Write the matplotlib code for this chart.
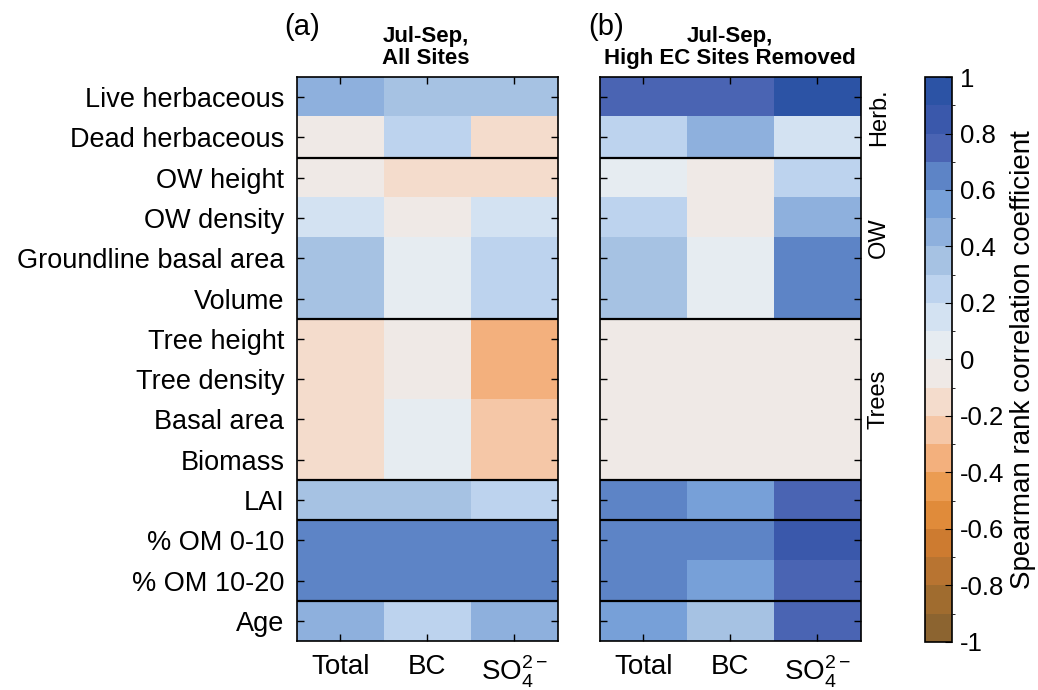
import numpy as np
import matplotlib
matplotlib.use("Agg")
import matplotlib.pyplot as plt
from matplotlib.colors import ListedColormap, BoundaryNorm

plt.rcParams['font.family'] = ['Liberation Sans', 'DejaVu Sans']
plt.rcParams['mathtext.fontset'] = 'custom'
plt.rcParams['mathtext.rm'] = 'Liberation Sans'

row_labels = ["Live herbaceous", "Dead herbaceous", "OW height", "OW density",
              "Groundline basal area", "Volume", "Tree height", "Tree density",
              "Basal area", "Biomass", "LAI", "% OM 0-10", "% OM 10-20", "Age"]
col_labels = ["Total", "BC", r"SO$_4^{2-}$"]

# Spearman coefficients (Total, BC, SO4)
all_sites = [
    [0.45, 0.35, 0.35],
    [-0.05, 0.25, -0.15],
    [-0.05, -0.15, -0.15],
    [0.15, -0.05, 0.15],
    [0.35, 0.05, 0.25],
    [0.35, 0.05, 0.25],
    [-0.15, -0.05, -0.35],
    [-0.15, -0.05, -0.35],
    [-0.15, 0.05, -0.25],
    [-0.15, 0.05, -0.25],
    [0.35, 0.35, 0.25],
    [0.65, 0.65, 0.65],
    [0.65, 0.65, 0.65],
    [0.45, 0.25, 0.45],
]
high_ec_removed = [
    [0.75, 0.75, 0.95],
    [0.25, 0.45, 0.15],
    [0.05, -0.05, 0.25],
    [0.25, -0.05, 0.45],
    [0.35, 0.05, 0.65],
    [0.35, 0.05, 0.65],
    [-0.05, -0.05, -0.05],
    [-0.05, -0.05, -0.05],
    [-0.05, -0.05, -0.05],
    [-0.05, -0.05, -0.05],
    [0.65, 0.55, 0.75],
    [0.65, 0.65, 0.85],
    [0.65, 0.55, 0.75],
    [0.55, 0.35, 0.75],
]
group_breaks = [2, 6, 10, 11, 13]
groups = [("Herb.", 0, 2), ("OW", 2, 6), ("Trees", 6, 10)]
panel_titles = [("(a)", "Jul-Sep,", "All Sites"),
                ("(b)", "Jul-Sep,", "High EC Sites Removed")]

bin_colors = ["#8c6430", "#a06c2f", "#b87431", "#cd7b30", "#e08b3a",
              "#eb9c52", "#f3b07d", "#f5c7a7", "#f4dccc", "#efe9e6",
              "#e6ecf1", "#d3e2f2", "#bdd3ee", "#a6c2e3", "#8eb0dd",
              "#77a0d8", "#5d84c6", "#4a64b3", "#3a58ab", "#2c53a5"]
cmap = ListedColormap(bin_colors)
norm = BoundaryNorm(np.linspace(-1, 1, 21), cmap.N)

fig = plt.figure(figsize=(10.38, 6.9), dpi=100)
ax_a = fig.add_axes([0.286, 0.071, 0.2514, 0.8174])
ax_b = fig.add_axes([0.578, 0.071, 0.2514, 0.8174])
cax = fig.add_axes([0.891, 0.0696, 0.026, 0.8188])

def draw_panel(ax, data, show_rows):
    arr = np.array(data)
    im = ax.imshow(arr, cmap=cmap, norm=norm, aspect='auto', interpolation='nearest',
                   extent=(-0.5, arr.shape[1] - 0.5, arr.shape[0] - 0.5, -0.5))
    for b in group_breaks:
        ax.axhline(b - 0.5, color='black', lw=1.6)
    ax.set_xticks(range(len(col_labels)))
    ax.set_xticklabels(col_labels, fontsize=20)
    ax.set_yticks(range(len(row_labels)))
    if show_rows:
        ax.set_yticklabels(row_labels, fontsize=19.5)
    else:
        ax.set_yticklabels([])
    ax.tick_params(direction='in', top=True, right=True, length=5, width=1, pad=9)
    for s in ax.spines.values():
        s.set_linewidth(1.2)
    return im

im = draw_panel(ax_a, all_sites, True)
draw_panel(ax_b, high_ec_removed, False)

for name, r0, r1 in groups:
    ax_b.text(1.069, 1 - ((r0 + r1) / 2) / len(row_labels), name, transform=ax_b.transAxes,
              rotation=90, va='center', ha='center', fontsize=17)

# panel letters and two-line bold titles
for (letter, line1, line2), xl, xc in zip(panel_titles, [0.274, 0.567], [0.41, 0.703]):
    fig.text(xl, 0.961, letter, fontsize=21, va='center')
    fig.text(xc, 0.939, line1, fontsize=16, fontweight='bold', ha='center', va='baseline')
    fig.text(xc, 0.907, line2, fontsize=16, fontweight='bold', ha='center', va='baseline')

cb = fig.colorbar(im, cax=cax, ticks=np.arange(-1, 1.01, 0.2))
cb.ax.set_yticklabels(["-1", "-0.8", "-0.6", "-0.4", "-0.2", "0", "0.2", "0.4", "0.6", "0.8", "1"])
cb.ax.tick_params(labelsize=18.5, direction='in', length=5, pad=6)
cb.outline.set_linewidth(1.2)
cb.set_label("Spearman rank correlation coefficient", fontsize=20, labelpad=4)

fig.savefig("out.png", dpi=100)
